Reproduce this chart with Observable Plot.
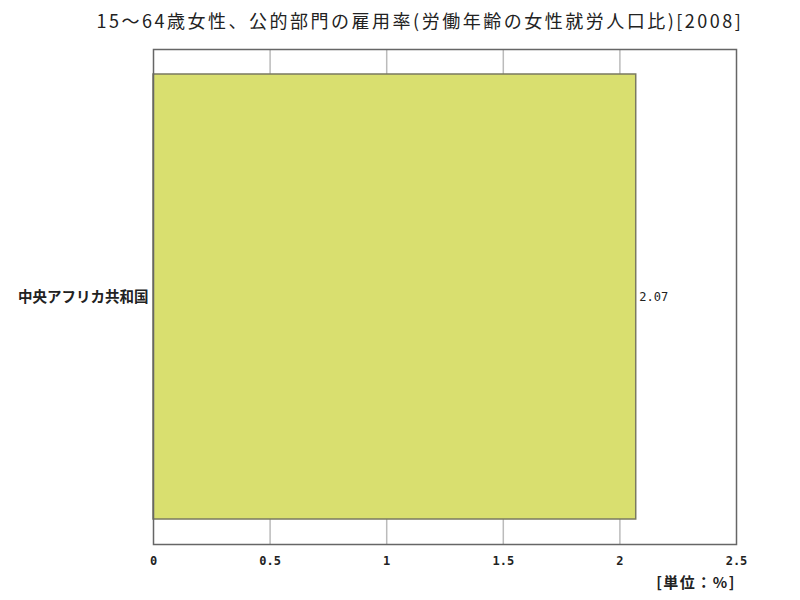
<!DOCTYPE html>
<html><head><meta charset="utf-8">
<script src="https://cdn.jsdelivr.net/npm/d3@7"></script>
<script src="https://cdn.jsdelivr.net/npm/@observablehq/plot@0.6"></script>
<style>
body{margin:0;background:#fff;font-family:"Noto Sans CJK JP",sans-serif;}
#wrap{position:relative;width:800px;height:600px;}
#title{position:absolute;left:0;top:9px;width:840px;text-align:center;font-size:18px;line-height:22px;color:#222;white-space:nowrap;letter-spacing:2.5px;}
#unit{position:absolute;right:64px;top:571px;font-size:15px;color:#222;font-weight:bold;white-space:nowrap;letter-spacing:1.5px;}
#chart{position:absolute;left:0;top:36px;}
</style></head>
<body><div id="wrap">
<div id="title">15～64歳女性、公的部門の雇用率(労働年齢の女性就労人口比)[2008]</div>
<div id="chart"></div>
<div id="unit"></div>
</div>
<script>
const categories = ["中央アフリカ共和国"];
const values = [2.07];
const xTicks = [0, 0.5, 1, 1.5, 2, 2.5];
const gridTicks = [0.5, 1, 1.5, 2];
const unitLabel = "[単位：%]";
document.getElementById("unit").textContent = unitLabel;

const data = categories.map((c, i) => ({category: c, value: values[i]}));

const chart = Plot.plot({
  width: 800,
  height: 564,
  marginLeft: 153,
  marginRight: 64,
  marginTop: 13,
  marginBottom: 56,
  style: {fontFamily: "'Noto Sans CJK JP', sans-serif", background: "#fff"},
  x: {domain: [0, 2.5], ticks: xTicks, label: null, tickFormat: d => String(d)},
  y: {domain: categories, label: null, paddingInner: 0, paddingOuter: 0.056},
  marks: [
    Plot.gridX(gridTicks, {stroke: "#bbb", strokeOpacity: 1, strokeWidth: 1.5}),
    Plot.barX(data, {x: "value", y: "category", fill: "#d9df6f", stroke: "#7a7a60", strokeWidth: 1.5}),
    Plot.text(data, {x: "value", y: "category", text: d => d.value.toFixed(2), textAnchor: "start", dx: 3, fontSize: 12, fill: "#222", fontFamily: "'DejaVu Sans Mono', monospace"}),
    Plot.frame({stroke: "#666", strokeWidth: 1.5}),
    Plot.axisX({ticks: xTicks, tickSize: 0, tickPadding: 12, fontSize: 12, fontWeight: "bold", fill: "#222", fontFamily: "'DejaVu Sans Mono', monospace", label: null, tickFormat: d => String(d)}),
    Plot.axisY({tickSize: 0, tickPadding: 5, fontSize: 14.5, fontWeight: "bold", fill: "#222", label: null})
  ]
});
document.getElementById("chart").appendChild(chart);
</script>
</body></html>
